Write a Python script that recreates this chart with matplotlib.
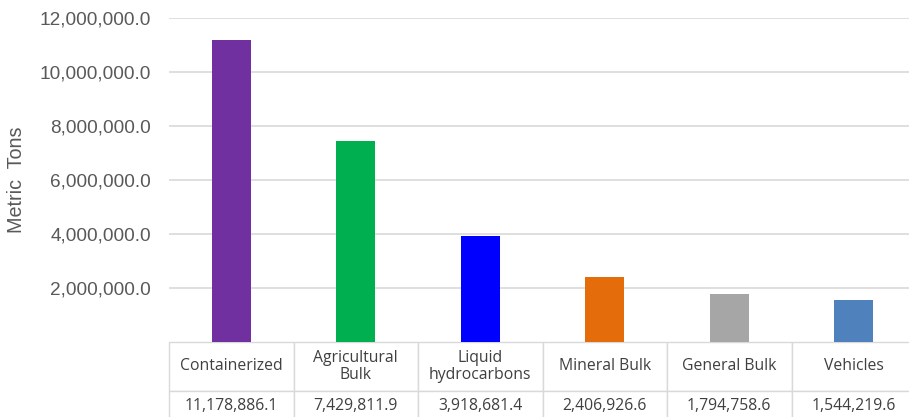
import matplotlib.pyplot as plt
from matplotlib.ticker import FuncFormatter

categories = ["Containerized", "Agricultural\nBulk", "Liquid\nhydrocarbons",
              "Mineral Bulk", "General Bulk", "Vehicles"]
values = [11178886.1, 7429811.9, 3918681.4, 2406926.6, 1794758.6, 1544219.6]
colors = ["#7030A0", "#00B050", "#0000FF", "#E46C0A", "#A6A6A6", "#4F81BD"]
yticks = [2000000, 4000000, 6000000, 8000000, 10000000, 12000000]

W, H = 909, 417
fig = plt.figure(figsize=(W / 100, H / 100), dpi=100)
left, right, top, bottom = 169, 916, 18, 342
ax = fig.add_axes([left / W, 1 - bottom / H, (right - left) / W, (bottom - top) / H])

x = range(len(categories))
ax.bar(x, values, width=0.31, color=colors, zorder=3)
ax.set_xlim(-0.5, len(categories) - 0.5)
ax.set_ylim(0, 12000000)
ax.set_yticks(yticks)
ax.yaxis.set_major_formatter(FuncFormatter(lambda v, p: f"{v:,.1f}"))
ax.tick_params(axis='y', length=0, pad=13, labelsize=13.7, labelcolor="#595959")
ax.tick_params(axis='x', length=0, labelbottom=False)
ax.grid(axis='y', color="#D9D9D9", linewidth=1.2, zorder=0)
for s in ax.spines.values():
    s.set_visible(False)

for lbl in ax.get_yticklabels():
    lbl.set_fontfamily("Liberation Sans")

ax.set_ylabel("Metric  Tons", fontsize=14.2, color="#595959", family="Liberation Sans")
ax.yaxis.set_label_coords((26 - left) / (right - left), 0.5)

cell_text = [[f"{v:,.1f}" for v in values]]
tab_h = (49 + 30) / (bottom - top)
tbl = ax.table(cellText=[categories] + cell_text, cellLoc='center',
               bbox=[0, -tab_h, 1, tab_h])
tbl.auto_set_font_size(False)
for (r, c), cell in tbl.get_celld().items():
    cell.set_edgecolor("#D9D9D9")
    cell.set_linewidth(1.0)
    cell.set_height(49 if r == 0 else 30)
    t = cell.get_text()
    t.set_fontsize(11.3)
    t.set_color("#404040")
    t.set_fontfamily("Open Sans")
    t.set_linespacing(1.1)

fig.savefig("out.png", dpi=100)
